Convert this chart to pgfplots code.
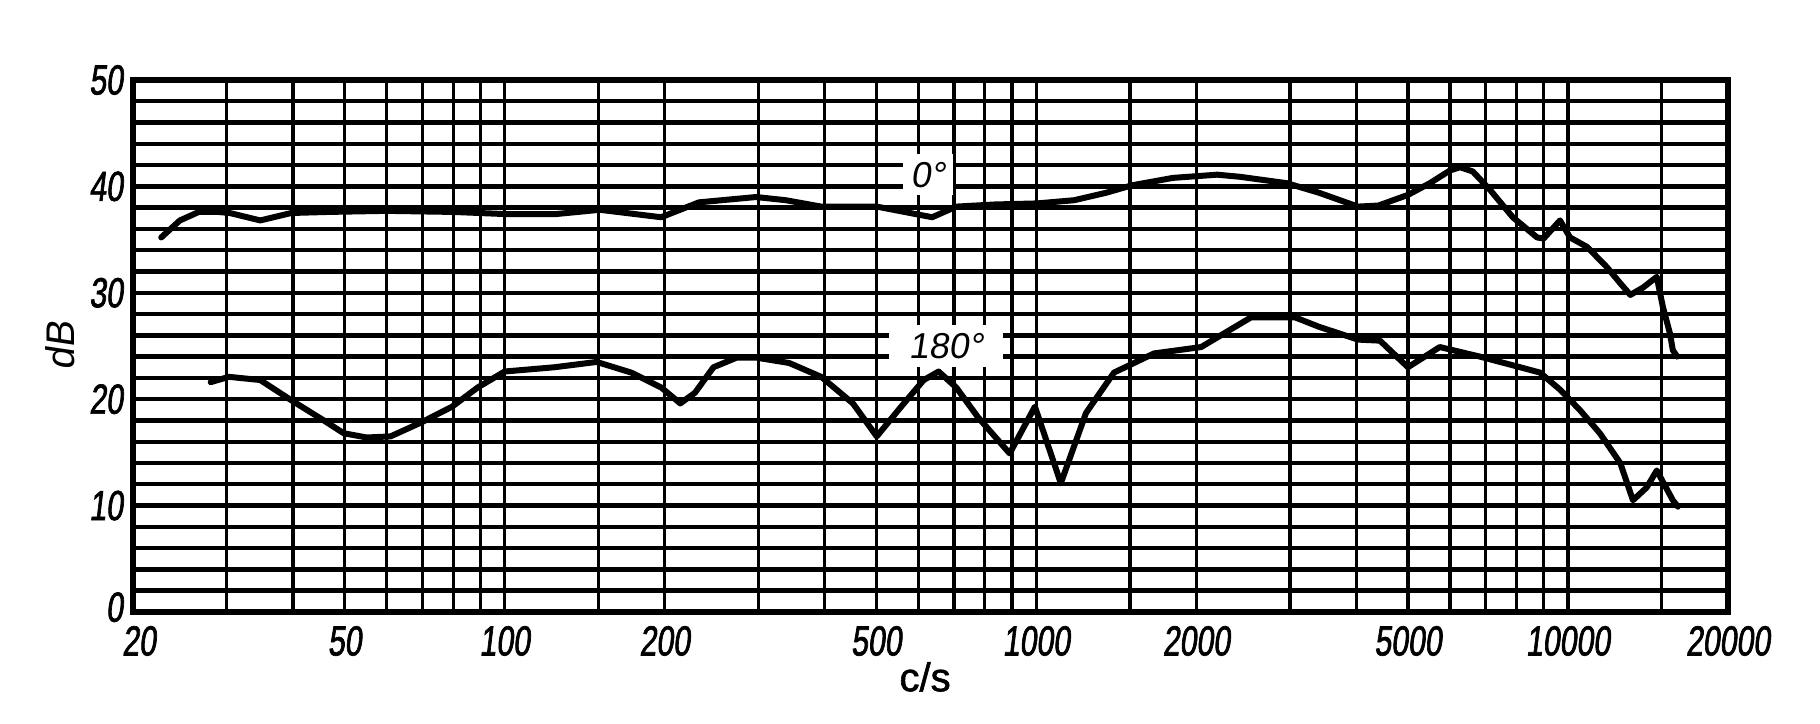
\documentclass[border=0pt]{standalone}
\usepackage{pgfplots}
\pgfplotsset{compat=1.18}
\usepackage{fontspec}
\newfontfamily\condfont[FakeStretch=0.72,FakeSlant=0.12,FakeBold=1.6]{Liberation Sans}
\newfontfamily\labfont[FakeSlant=0.15]{Liberation Sans}
\newfontfamily\boldfont[FakeBold=1.5]{Liberation Sans}

\pgfplotstableread{
f db
22.6 35.2
24.5 36.8
26.6 37.6
28.9 37.6
30.4 37.5
34.7 36.8
39.7 37.5
46.7 37.6
60 37.7
80 37.6
100 37.4
125 37.4
151 37.8
197 37.1
232 38.5
297 39.0
338 38.7
394 38.1
501 38.1
637 37.1
707 38.1
836 38.3
1003 38.4
1178 38.7
1353 39.4
1513 40.1
1808 40.8
2189 41.1
2417 40.9
2960 40.3
3403 39.4
4027 38.1
4400 38.2
5000 39.2
5498 40.3
6000 41.5
6264 41.8
6622 41.4
7128 39.7
7874 37.1
8750 35.2
9000 35.1
9660 36.8
10090 35.2
10870 34.3
11840 32.4
12540 30.9
13100 29.8
13850 30.5
14690 31.5
15080 28.7
15550 26.2
15750 24.6
16050 24.0
}\zerodeg

\pgfplotstableread{
f db
28 21.6
30.3 22.1
34.7 21.8
39.7 19.9
45.7 18.0
49.8 16.8
55 16.4
61 16.5
69.6 17.8
79.7 19.3
89 21.1
100 22.6
124 23.0
149 23.5
173 22.5
197 21.1
214 19.6
228 20.6
247 23.0
273 23.9
298 23.9
343 23.4
394 22.1
452 19.6
501 16.5
557 19.3
614 21.8
655 22.6
707 21.1
777 18.3
891 14.9
994 19.3
1112 12.1
1240 18.7
1400 22.5
1665 24.3
2042 24.9
2536 27.7
3063 27.7
3403 26.8
4027 25.6
4430 25.5
5000 23.0
5740 24.9
6830 24.0
8130 23.0
8860 22.5
9660 20.9
10520 19.0
11480 16.8
12540 14.0
13250 10.5
14060 11.7
14690 13.3
15750 10.5
16100 9.9
}\oneeighty

\begin{document}
\begin{tikzpicture}
\begin{axis}[
  scale only axis,
  width=398.75pt, height=133pt,
  xmode=log,
  xmin=20, xmax=20000,
  ymin=0, ymax=50,
  xtick={20,50,100,200,500,1000,2000,5000,10000,20000},
  xticklabels={\hspace*{3pt}20,50,100,200,500,1000,2000,5000,10000,20000},
  minor xtick={30,40,60,70,80,90,150,300,400,600,700,800,900,1500,3000,4000,6000,7000,8000,9000,15000},
  ytick={0,10,20,30,40,50},
  yticklabels={\raisebox{2.5pt}{0},10,20,30,40,50},
  minor ytick={2,4,6,8,12,14,16,18,22,24,26,28,32,34,36,38,42,44,46,48},
  major tick length=0pt, minor tick length=0pt,
  xmajorgrids, xminorgrids, ymajorgrids, yminorgrids,
  x grid style={black, line width=0.8pt},
  y grid style={black, line width=1.1pt},
  axis line style={black, line width=1.6pt},
  ticklabel style={font=\condfont\fontsize{10.5}{12}\selectfont},
  xticklabel style={yshift=0pt},
  yticklabel style={xshift=1pt},
  xlabel={c/s},
  ylabel={dB},
  xlabel style={font=\boldfont\fontsize{10}{12}\selectfont, at={(axis description cs:0.4966,-0.122)}, anchor=center},
  ylabel style={font=\labfont\fontsize{10}{12}\selectfont, at={(axis description cs:-0.0455,0.5)}, anchor=center, rotate=0},
]
\addplot[black, line width=1.5pt, line join=round, line cap=round] table[x=f, y=db] {\zerodeg};
\addplot[black, line width=1.5pt, line join=round, line cap=round] table[x=f, y=db] {\oneeighty};
\node[fill=white, inner sep=2pt, font=\labfont\fontsize{9}{10}\selectfont] at (axis cs:625,41.1) {0°};
\node[fill=white, inner xsep=5pt, inner ysep=2pt, font=\labfont\fontsize{9}{10}\selectfont] at (axis cs:676,25.0) {180°};
\coordinate (ll) at (rel axis cs:0,0);
\coordinate (ur) at (rel axis cs:1,1);
\end{axis}
\pgfresetboundingbox
\path[use as bounding box] ([shift={(-33.25pt,-28pt)}]ll) rectangle ([shift={(23pt,20pt)}]ur);
\end{tikzpicture}
\end{document}
